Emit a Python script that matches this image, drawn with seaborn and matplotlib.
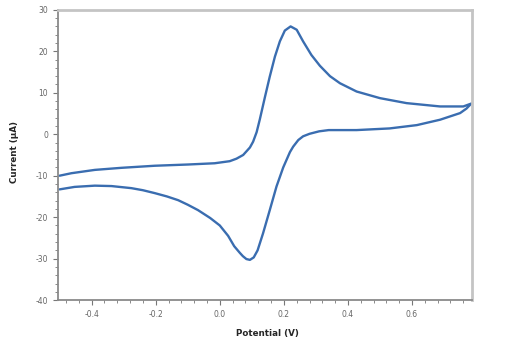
import numpy as np
import pandas as pd
import matplotlib
matplotlib.use("Agg")
import matplotlib.pyplot as plt
from matplotlib.ticker import MultipleLocator, FormatStrFormatter
import seaborn as sns

# Forward (anodic) scan: -0.5 V -> 0.785 V
pot_fwd = [-0.50, -0.463, -0.39, -0.307, -0.203, -0.099, -0.016, 0.031, 0.052,
           0.073, 0.094, 0.104, 0.115, 0.125, 0.141, 0.156, 0.172, 0.1875,
           0.203, 0.221, 0.240, 0.260, 0.286, 0.3125, 0.344, 0.375, 0.427,
           0.50, 0.583, 0.6875, 0.76, 0.785]
cur_fwd = [-10.0, -9.4, -8.6, -8.1, -7.6, -7.3, -7.0, -6.5, -5.9,
           -5.0, -3.2, -1.8, 0.5, 3.6, 9.0, 13.9, 18.7, 22.4,
           25.0, 26.0, 25.2, 22.4, 19.1, 16.5, 14.0, 12.3, 10.3,
           8.7, 7.5, 6.7, 6.7, 7.4]

# Reverse (cathodic) scan: 0.785 V -> -0.5 V
pot_rev = [0.785, 0.77, 0.75, 0.6875, 0.615, 0.53, 0.427, 0.34, 0.31, 0.28,
           0.26, 0.245, 0.229, 0.219, 0.198, 0.177, 0.156, 0.135, 0.118, 0.106,
           0.094, 0.083, 0.072, 0.0625, 0.045, 0.026, 0.0, -0.03, -0.068, -0.10,
           -0.13, -0.165, -0.203, -0.24, -0.276, -0.338, -0.39, -0.453, -0.50]
cur_rev = [7.4, 6.2, 5.1, 3.5, 2.2, 1.4, 1.0, 1.0, 0.7, 0.1,
           -0.5, -1.4, -3.0, -4.3, -8.0, -12.6, -18.3, -23.9, -28.0, -29.7,
           -30.3, -30.1, -29.4, -28.6, -27.0, -24.5, -22.0, -20.2, -18.3, -17.0,
           -15.9, -15.0, -14.2, -13.5, -13.0, -12.5, -12.4, -12.7, -13.3]

df = pd.DataFrame({
    "Potential": pot_fwd + pot_rev,
    "Current": cur_fwd + cur_rev,
})

sns.set_style("white")
plt.rcParams["axes.unicode_minus"] = False
plt.rcParams["font.family"] = ["DejaVu Sans"]

fig = plt.figure(figsize=(5.13, 3.51), dpi=100)
ax = fig.add_axes([0.113, 0.145, 0.807, 0.827])

sns.lineplot(data=df, x="Potential", y="Current", sort=False, estimator=None,
             color="#3a6db0", linewidth=1.7, ax=ax)
ax.lines[0].set_solid_joinstyle("round")

ax.set_xlim(-0.505, 0.787)
ax.set_ylim(-40, 30)
ax.xaxis.set_major_locator(MultipleLocator(0.2))
ax.xaxis.set_minor_locator(MultipleLocator(0.04))
ax.yaxis.set_major_locator(MultipleLocator(10))
ax.yaxis.set_minor_locator(MultipleLocator(2))
ax.xaxis.set_major_formatter(FormatStrFormatter("%.1f"))

ax.tick_params(which="both", direction="out", colors="#777777", labelcolor="#666666",
               labelsize=5.5, bottom=True, left=True, top=False, right=False)
ax.tick_params(which="major", length=3.5, width=0.8)
ax.tick_params(which="minor", length=2, width=0.6)

for side in ["left", "bottom"]:
    ax.spines[side].set_color("#8a8a8a")
    ax.spines[side].set_linewidth(1.3)
for side in ["top", "right"]:
    ax.spines[side].set_color("#c4c4c4")
    ax.spines[side].set_linewidth(2.0)

ax.set_xlabel("Potential (V)", fontsize=6.3, fontweight="bold")
ax.set_ylabel("Current (μA)", fontsize=6.3, fontweight="bold")
ax.xaxis.set_label_coords(0.505, -0.10)
ax.yaxis.set_label_coords(-0.095, 0.51)

fig.savefig("out.png", dpi=100, facecolor="white")
